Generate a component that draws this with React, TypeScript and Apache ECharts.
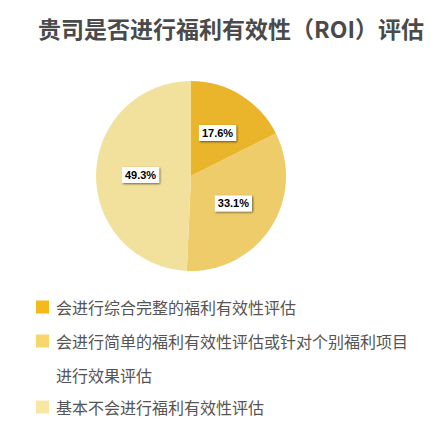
import React, { useEffect, useRef } from 'react';
import * as echarts from 'echarts';

const TITLE = '贵司是否进行福利有效性（ROI）评估';

const CATEGORIES = [
  '会进行综合完整的福利有效性评估',
  '会进行简单的福利有效性评估或针对个别福利项目\n进行效果评估',
  '基本不会进行福利有效性评估',
];
const VALUES = [17.6, 33.1, 49.3];

const SLICE_COLORS = ['#EBB52B', '#EECC6A', '#F2E19C'];
const SWATCH_COLORS = ['#F5B91B', '#F7D66B', '#F9E6A0'];

const FONT = '"Noto Sans CJK SC", "Noto Sans", sans-serif';

// one legend per item so the wrapped item can keep its icon on the first line
const LEGEND_TOPS = [297, 290, 397];

const App = (): JSX.Element => {
  const divEL = useRef(null);

  useEffect(() => {
    const instance = echarts.init(divEL.current as any, null, { renderer: 'svg' });

    const legends = CATEGORIES.map((name, i) => {
      const wrapped = name.indexOf('\n') >= 0;
      return {
        left: 36,
        top: LEGEND_TOPS[i],
        padding: 0,
        itemWidth: 13,
        itemHeight: 13,
        icon: 'rect',
        selectedMode: false,
        data: [{ name, itemStyle: { color: SWATCH_COLORS[i] } }],
        // an empty line on top puts the first text line level with the icon
        formatter: (n: string) => (wrapped ? '\n' + n : n),
        textStyle: {
          color: '#555555',
          fontSize: 16,
          fontFamily: FONT,
          lineHeight: wrapped ? 34 : 20,
          padding: [0, 0, 0, 2],
        },
      };
    });

    const option: any = {
      animation: false,
      backgroundColor: '#ffffff',
      title: {
        text: TITLE,
        left: 38,
        top: 16,
        padding: 0,
        textStyle: {
          color: '#4A4A4A',
          fontSize: 23,
          fontWeight: 'bold',
          fontFamily: FONT,
        },
      },
      legend: legends,
      series: [
        {
          type: 'pie',
          center: [191, 176],
          radius: 95,
          startAngle: 90,
          clockwise: true,
          silent: true,
          data: CATEGORIES.map((name, i) => ({
            name,
            value: VALUES[i],
            itemStyle: { color: SLICE_COLORS[i] },
          })),
          label: {
            show: true,
            position: 'inside',
            formatter: '{c}%',
            color: '#000000',
            fontSize: 11,
            fontWeight: 'bold',
            fontFamily: 'Arial, "Liberation Sans", sans-serif',
            backgroundColor: '#ffffff',
            padding: [3, 3, 2, 3],
            shadowColor: 'rgba(0,0,0,0.55)',
            shadowBlur: 2,
            shadowOffsetX: 1,
            shadowOffsetY: 1,
          },
          labelLine: { show: false },
        },
      ],
    };

    instance.setOption(option);

    return () => {
      instance.dispose();
    };
  }, []);

  return (
    <div
      ref={divEL}
      style={{ position: 'fixed', left: 0, top: 0, width: 447, height: 439 }}
    ></div>
  );
};

export default App;
